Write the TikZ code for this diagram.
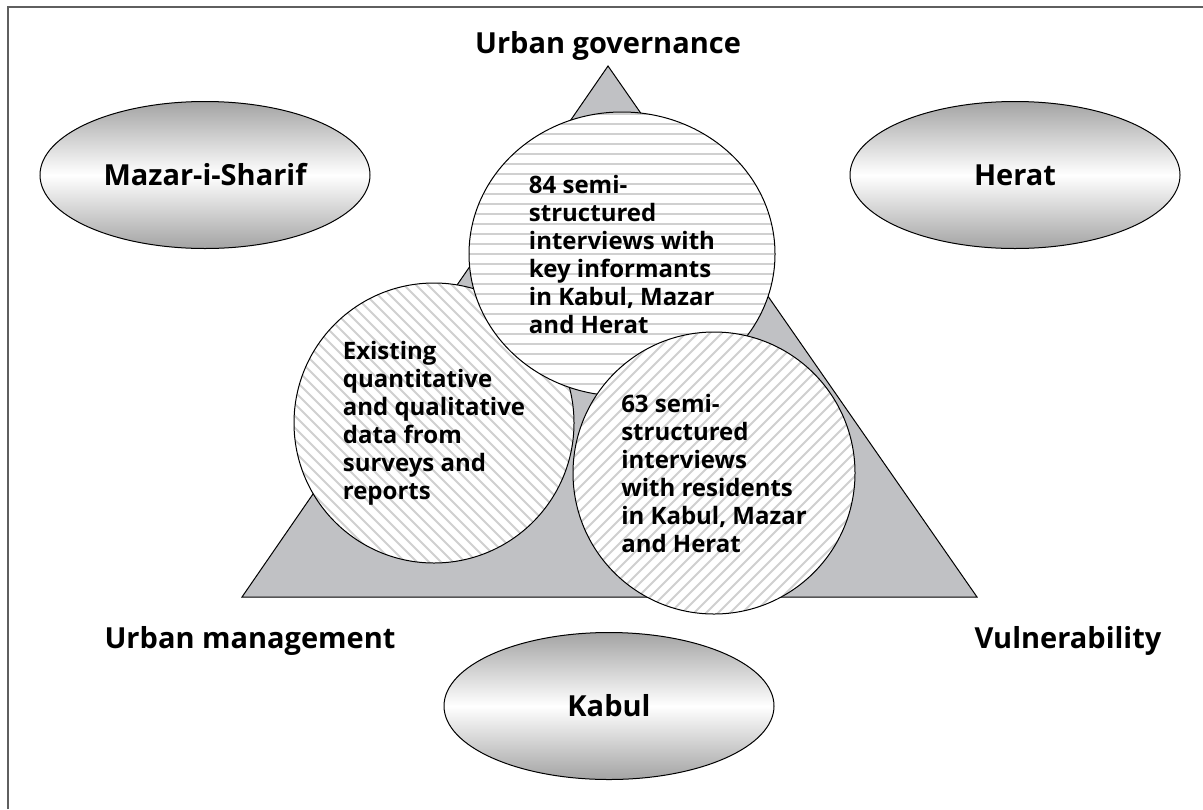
\documentclass[tikz,border=0pt]{standalone}
\usepackage{fontspec}
\setmainfont{Open Sans}
\usetikzlibrary{shapes.geometric}

\definecolor{trigray}{RGB}{192,193,196}
\definecolor{hatchgray}{RGB}{208,208,208}
\definecolor{framegray}{RGB}{95,95,95}

\tikzset{
	lbl/.style={font=\fontsize{14.5}{17}\selectfont\bfseries, anchor=base},
	cityell/.style={ellipse, draw, line width=0.5pt, minimum width=165pt, minimum height=73.5pt, inner sep=0pt, top color=black!36, bottom color=black!36, middle color=white, font=\fontsize{14.5}{17}\selectfont\bfseries},
	hatchline/.style={draw=hatchgray, line width=1pt},
	source/.style={draw, line width=0.5pt, fill=white, inner sep=0pt, align=left, font=\fontsize{12}{14}\selectfont\bfseries},
	hatchnw/.style={path picture={
		\foreach \k in {-30,...,30}
			\draw[hatchline] ([shift={(\k*12-200,-200)}]path picture bounding box.center) -- ([shift={(\k*12+200,200)}]path picture bounding box.center);
		}},
	hatchne/.style={path picture={
		\foreach \k in {-30,...,30}
			\draw[hatchline] ([shift={(\k*12-200,200)}]path picture bounding box.center) -- ([shift={(\k*12+200,-200)}]path picture bounding box.center);
		}},
	hatchh/.style={path picture={
		\foreach \k in {-16,...,16}
			\draw[hatchline, line width=1.4pt] ([shift={(-200,\k*10)}]path picture bounding box.center) -- ([shift={(200,\k*10)}]path picture bounding box.center);
		}}
}

\begin{document}
\begin{tikzpicture}[x=0.5pt, y=-0.5pt]
		
		\useasboundingbox (0,0) rectangle (1203,809);
		\draw[framegray, line width=1pt] (8,809) -- (8,7) -- (1203,7);
		
		\coordinate (apex) at (608,66);
		\coordinate (baseR) at (977,597);
		\coordinate (baseL) at (242,597);
		\draw[fill=trigray, line width=0.5pt] (apex) -- (baseR) -- (baseL) -- cycle;
		
		\node[lbl] (govern) at (608,53) {Urban governance};
		\node[lbl] (manage) at (250,648) {Urban management};
		\node[lbl] (vulner) at (1068,648) {Vulnerability};
		
		\node[cityell] (mazar) at (205,175) {Mazar-i-Sharif};
		\node[cityell] (herat) at (1015,175) {Herat};
		\node[cityell] (kabul) at (609,706) {Kabul};
		
		\node[source, circle, minimum size=140pt, hatchnw] (existing) at (434,423) {Existing\\quantitative\\and qualitative\\data from\\surveys and\\reports};
		\node[source, ellipse, minimum width=153pt, minimum height=142pt, hatchh] (informants) at (622,254) {84 semi-\\structured\\interviews with\\key informants\\in Kabul, Mazar\\and Herat};
		\node[source, circle, minimum size=141pt, hatchne] (residents) at (714,473) {63 semi-\\structured\\interviews\\with residents\\in Kabul, Mazar\\and Herat};
		
\end{tikzpicture}
\end{document}
